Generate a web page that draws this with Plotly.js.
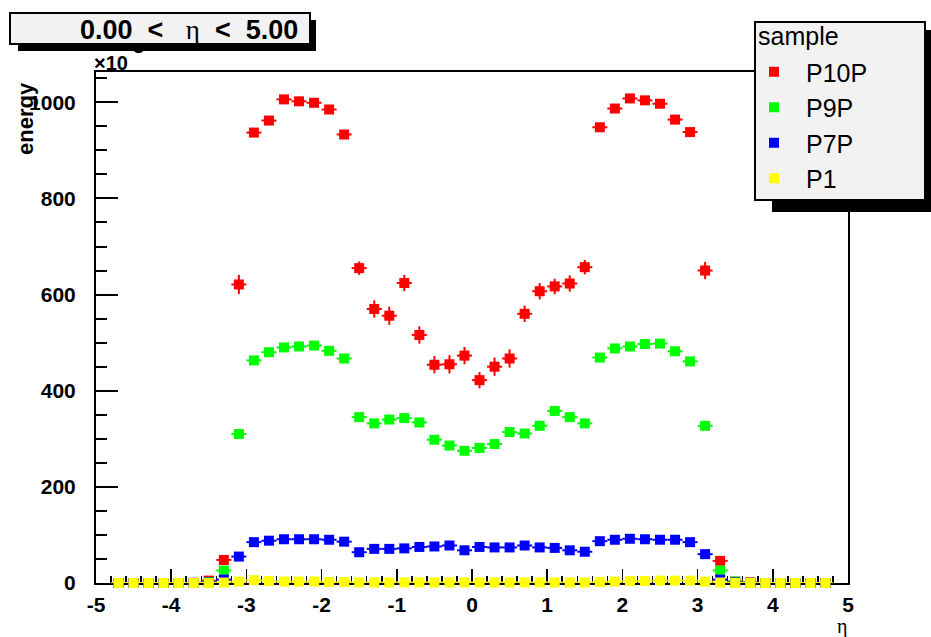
<!DOCTYPE html>
<html>
<head>
<meta charset="utf-8">
<script src="https://cdn.plot.ly/plotly-3.0.1.min.js"></script>
<style>
  html, body { margin: 0; padding: 0; background: #ffffff; }
  #chart { width: 931px; height: 637px; }
</style>
</head>
<body>
<div id="chart"></div>
<script>
// Bin centres in eta (bin width 0.2)
const eta = [-4.7, -4.5, -4.3, -4.1, -3.9, -3.7, -3.5, -3.3, -3.1, -2.9, -2.7, -2.5,
             -2.3, -2.1, -1.9, -1.7, -1.5, -1.3, -1.1, -0.9, -0.7, -0.5, -0.3, -0.1,
              0.1,  0.3,  0.5,  0.7,  0.9,  1.1,  1.3,  1.5,  1.7,  1.9,  2.1,  2.3,
              2.5,  2.7,  2.9,  3.1,  3.3,  3.5,  3.7,  3.9,  4.1,  4.3,  4.5,  4.7];
const etaHalfWidth = [0.1, 0.1, 0.1, 0.1, 0.1, 0.1, 0.1, 0.1, 0.1, 0.1, 0.1, 0.1,
                      0.1, 0.1, 0.1, 0.1, 0.1, 0.1, 0.1, 0.1, 0.1, 0.1, 0.1, 0.1,
                      0.1, 0.1, 0.1, 0.1, 0.1, 0.1, 0.1, 0.1, 0.1, 0.1, 0.1, 0.1,
                      0.1, 0.1, 0.1, 0.1, 0.1, 0.1, 0.1, 0.1, 0.1, 0.1, 0.1, 0.1];

// Mean energy per bin (units of 10^3)
const p10p = [0, 0, 0, 0, 0, 0.5, 5, 48, 621, 937, 962, 1006,
              1002, 999, 985, 933, 655, 570, 556, 624, 516, 454, 455, 473,
              422, 450, 467, 560, 607, 617, 623, 657, 948, 987, 1008, 1004,
              997, 964, 938, 650, 46, 3, 1.5, 0, 0, 0, 0, 0];
const p10pErr = [0, 0, 0, 0, 0, 0, 1, 4, 20, 6, 6, 6,
                 6, 6, 6, 6, 14, 18, 19, 17, 18, 18, 19, 18,
                 17, 19, 19, 17, 17, 16, 17, 15, 6, 6, 6, 6,
                 6, 6, 6, 18, 4, 1, 0, 0, 0, 0, 0, 0];

const p9p = [0, 0, 0, 0, 0, 0, 2, 26, 310, 463, 480, 490,
             492, 494, 483, 467, 345, 332, 340, 343, 334, 298, 286, 275,
             281, 289, 314, 311, 327, 358, 345, 332, 469, 488, 492, 497,
             498, 482, 461, 327, 26, 3, 0.5, 0, 0, 0, 0, 0];
const p9pErr = [0, 0, 0, 0, 0, 0, 0, 2, 4, 4, 4, 4,
                4, 4, 4, 4, 4, 4, 4, 4, 4, 4, 4, 4,
                4, 4, 4, 4, 4, 4, 4, 4, 4, 4, 4, 4,
                4, 4, 4, 4, 2, 0, 0, 0, 0, 0, 0, 0];

const p7p = [0, 0, 0, 0, 0, 0, 1, 7, 55, 85, 88, 91,
             91, 91, 90, 86, 64, 71, 71, 72, 75, 76, 78, 68,
             75, 74, 74, 78, 74, 73, 68, 65, 87, 90, 92, 91,
             90, 90, 85, 60, 7, 1, 0, 0, 0, 0, 0, 0];
const p7pErr = [0, 0, 0, 0, 0, 0, 0, 1, 2, 2, 2, 2,
                2, 2, 2, 2, 2, 2, 2, 2, 2, 2, 2, 2,
                2, 2, 2, 2, 2, 2, 2, 2, 2, 2, 2, 2,
                2, 2, 2, 2, 1, 0, 0, 0, 0, 0, 0, 0];

const p1 = [0, 0, 0, 0, 0, 0, 0, 1, 3, 6, 4, 3,
            3, 3, 2, 2, 1, 1, 1, 1, 1, 1, 1, 1,
            1, 1, 1, 1, 1, 1, 1, 1, 2, 3, 4, 4,
            5, 5, 5, 3, 1, 0, 0, 0, 0, 0, 0, 0];
const p1Err = [0, 0, 0, 0, 0, 0, 0, 0, 0, 0, 0, 0,
               0, 0, 0, 0, 0, 0, 0, 0, 0, 0, 0, 0,
               0, 0, 0, 0, 0, 0, 0, 0, 0, 0, 0, 0,
               0, 0, 0, 0, 0, 0, 0, 0, 0, 0, 0, 0];

const sampleNames = ['P10P', 'P9P', 'P7P', 'P1'];
const sampleColors = ['#ff0000', '#00ff00', '#0000ff', '#ffff00'];
const sampleValues = [p10p, p9p, p7p, p1];
const sampleErrors = [p10pErr, p9pErr, p7pErr, p1Err];

const xTickVals = [-5, -4, -3, -2, -1, 0, 1, 2, 3, 4, 5];
const xTickText = ['-5', '-4', '-3', '-2', '-1', '0', '1', '2', '3', '4', '5'];

// Canvas geometry (pixels) and helpers to place decorations in paper space
const W = 931, H = 637;
const M = { l: 96, r: 83, t: 72, b: 54 };
const PW = W - M.l - M.r, PH = H - M.t - M.b;
const px = x => (x - M.l) / PW;
const py = y => (H - M.b - y) / PH;

const SANS = 'Liberation Sans, Arial, Helvetica, sans-serif';
const SERIF = 'Liberation Serif, Times New Roman, serif';

const traces = sampleNames.map((name, k) => ({
  type: 'scatter',
  mode: 'markers',
  name: name,
  x: eta,
  y: sampleValues[k],
  cliponaxis: false,
  marker: { symbol: 'square', size: 10, color: sampleColors[k], line: { width: 0 } },
  error_x: { type: 'data', array: etaHalfWidth, visible: true, color: sampleColors[k], thickness: 2, width: 0 },
  error_y: { type: 'data', array: sampleErrors[k], visible: true, color: sampleColors[k], thickness: 2, width: 0 },
  hoverinfo: 'x+y+name'
}));

const layout = {
  width: W,
  height: H,
  margin: M,
  paper_bgcolor: '#ffffff',
  plot_bgcolor: '#ffffff',
  font: { family: SANS, color: '#000000' },
  showlegend: true,
  legend: {
    x: px(742), y: py(49), xanchor: 'left', yanchor: 'top',
    bgcolor: 'rgba(0,0,0,0)', borderwidth: 0,
    font: { family: SANS, size: 25, color: '#000000' },
    itemwidth: 54,
    traceorder: 'normal'
  },
  xaxis: {
    range: [-5, 5],
    tickmode: 'array', tickvals: xTickVals, ticktext: xTickText,
    ticks: 'inside', ticklen: 14, tickwidth: 1.5, tickcolor: '#000000',
    minor: { tickmode: 'linear', tick0: -5, dtick: 0.2, ticks: 'inside', ticklen: 7, tickwidth: 1.5, tickcolor: '#000000', showgrid: false },
    showline: true, linecolor: '#000000', linewidth: 2, mirror: true,
    showgrid: false, zeroline: false,
    layer: 'below traces',
    ticklabelstandoff: 2,
    tickfont: { family: SANS, size: 21, weight: 'bold', color: '#000000' }
  },
  yaxis: {
    range: [0, 1063],
    tickmode: 'linear', tick0: 0, dtick: 200,
    ticks: 'inside', ticklen: 22, tickwidth: 2, tickcolor: '#000000',
    minor: { tickmode: 'linear', tick0: 0, dtick: 50, ticks: 'inside', ticklen: 11, tickwidth: 2, tickcolor: '#000000', showgrid: false },
    showline: true, linecolor: '#000000', linewidth: 2, mirror: true,
    showgrid: false, zeroline: false,
    layer: 'below traces',
    ticklabelstandoff: 14,
    tickfont: { family: SANS, size: 21, weight: 'bold', color: '#000000' }
  },
  shapes: [
    // legend drop shadow and frame
    { type: 'rect', xref: 'paper', yref: 'paper', layer: 'above',
      x0: px(772), x1: px(936), y0: py(30), y1: py(212),
      fillcolor: '#000000', line: { width: 0 } },
    { type: 'rect', xref: 'paper', yref: 'paper', layer: 'above',
      x0: px(755), x1: px(925), y0: py(22), y1: py(200),
      fillcolor: '#f2f2f2', line: { color: '#000000', width: 2 } }
  ],
  annotations: [
    // legend header
    { xref: 'paper', yref: 'paper', x: px(756), y: py(36), xanchor: 'left', yanchor: 'middle',
      text: 'sample', showarrow: false,
      font: { family: SANS, size: 25, color: '#000000' } },
    // axis multiplier; its exponent sits under the title pave
    { xref: 'paper', yref: 'paper', x: px(92), y: py(63), xanchor: 'left', yanchor: 'middle',
      text: '×10', showarrow: false,
      font: { family: SANS, size: 20, weight: 'bold', color: '#000000' } },
    { xref: 'paper', yref: 'paper', x: px(138), y: py(46), xanchor: 'center', yanchor: 'middle',
      text: '3', showarrow: false,
      font: { family: SANS, size: 20, weight: 'bold', color: '#000000' } },
    { xref: 'paper', yref: 'paper', x: px(25), y: py(119), xanchor: 'center', yanchor: 'middle',
      text: 'energy', textangle: -90, showarrow: false,
      font: { family: SANS, size: 22, weight: 'bold', color: '#000000' } },
    { xref: 'paper', yref: 'paper', x: px(842), y: py(626), xanchor: 'center', yanchor: 'middle',
      text: 'η', showarrow: false,
      font: { family: SERIF, size: 20, color: '#000000' } },
    // title pave: shadow, box, text
    { xref: 'paper', yref: 'paper', x: px(18), y: py(20), xanchor: 'left', yanchor: 'top',
      text: ' ', showarrow: false, width: 298, height: 31,
      bgcolor: '#000000', borderwidth: 0, borderpad: 0 },
    { xref: 'paper', yref: 'paper', x: px(9), y: py(12), xanchor: 'left', yanchor: 'top',
      text: ' ', showarrow: false, width: 298, height: 29,
      bgcolor: '#f2f2f2', bordercolor: '#000000', borderwidth: 2, borderpad: 0 },
    { xref: 'paper', yref: 'paper', x: px(300), y: py(30), xanchor: 'right', yanchor: 'middle',
      text: '0.00\u00a0\u00a0<\u00a0\u00a0\u00a0<span style="font-weight:normal;font-family:Liberation Serif">η</span>\u00a0\u00a0<\u00a0\u00a05.00',
      showarrow: false,
      font: { family: SANS, size: 27, weight: 'bold', color: '#000000' } }
  ]
};

Plotly.newPlot('chart', traces, layout, { displayModeBar: false, staticPlot: true });
</script>
</body>
</html>
